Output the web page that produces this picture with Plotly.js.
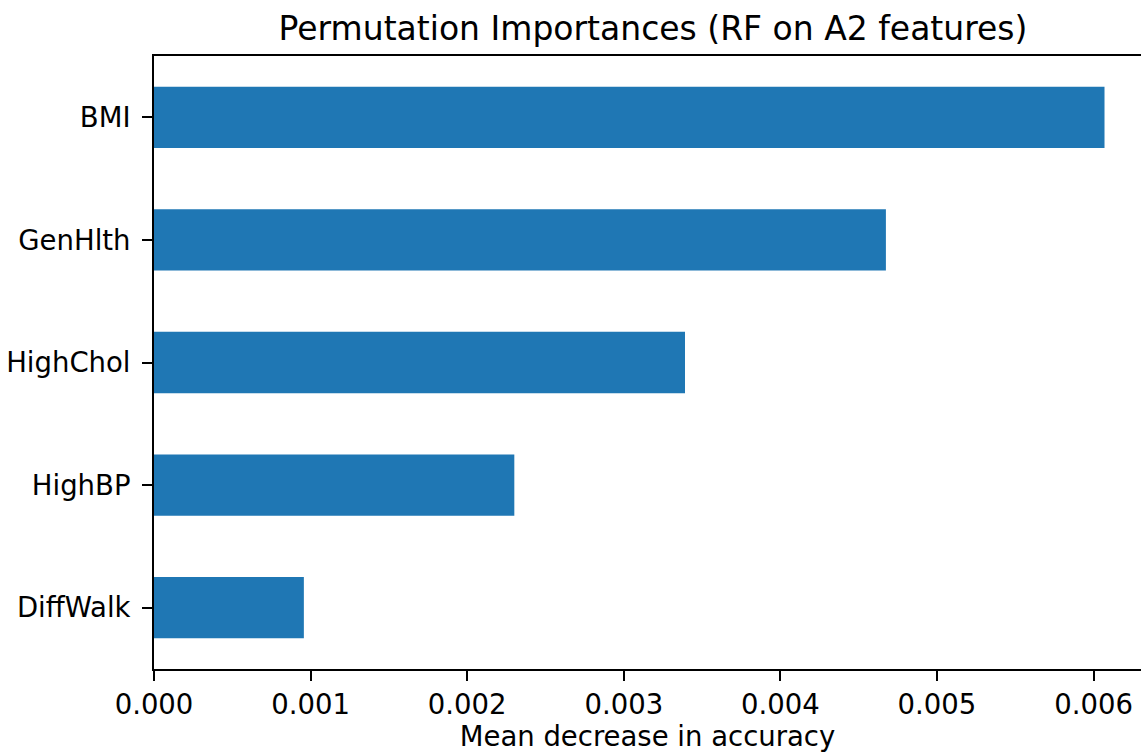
<!DOCTYPE html>
<html>
<head>
<meta charset="utf-8">
<script src="https://cdn.plot.ly/plotly-3.0.1.min.js"></script>
<style>html,body{margin:0;padding:0;background:#fff;}#chart{width:1141px;height:753px;}</style>
</head>
<body>
<div id="chart"></div>
<script>
const features = ['DiffWalk', 'HighBP', 'HighChol', 'GenHlth', 'BMI'];
const importances = [0.000957, 0.002301, 0.003391, 0.004674, 0.006070];
const xTickValues = [0, 0.001, 0.002, 0.003, 0.004, 0.005, 0.006];
const xTickLabels = ['0.000', '0.001', '0.002', '0.003', '0.004', '0.005', '0.006'];

const font = 'DejaVu Sans, sans-serif';
const trace = {
  type: 'bar',
  orientation: 'h',
  x: importances,
  y: features,
  width: 0.5,
  marker: {color: '#1f77b4', line: {width: 0}},
  hoverinfo: 'x+y'
};

const layout = {
  width: 1141,
  height: 753,
  margin: {l: 154, r: 0, t: 56, b: 84},
  paper_bgcolor: '#ffffff',
  plot_bgcolor: '#ffffff',
  showlegend: false,
  font: {family: font, size: 27.5, color: '#000000'},
  title: {
    text: 'Permutation Importances (RF on A2 features)',
    font: {family: font, size: 33, color: '#000000'},
    xref: 'container', x: 653 / 1141, xanchor: 'center',
    yref: 'container', y: 1 - 28 / 753, yanchor: 'middle'
  },
  xaxis: {
    range: [0, (1141 - 153.5) / 156670],
    tickvals: xTickValues,
    ticktext: xTickLabels,
    ticks: 'outside',
    ticklen: 10,
    tickwidth: 2,
    tickcolor: '#000000',
    showline: true,
    linecolor: '#000000',
    linewidth: 2,
    mirror: true,
    showgrid: false,
    zeroline: false,
    tickfont: {family: font, size: 27.5, color: '#000000'},
    title: {text: 'Mean decrease in accuracy', font: {family: font, size: 27.5, color: '#000000'}, standoff: 6}
  },
  yaxis: {
    type: 'category',
    range: [-0.5, 4.5],
    ticks: 'outside',
    ticklen: 10,
    tickwidth: 2,
    tickcolor: '#000000',
    showline: true,
    linecolor: '#000000',
    linewidth: 2,
    showgrid: false,
    zeroline: false,
    ticklabelstandoff: 6,
    tickfont: {family: font, size: 27.5, color: '#000000'}
  }
};

Plotly.newPlot('chart', [trace], layout, {displayModeBar: false, staticPlot: true});
</script>
</body>
</html>
